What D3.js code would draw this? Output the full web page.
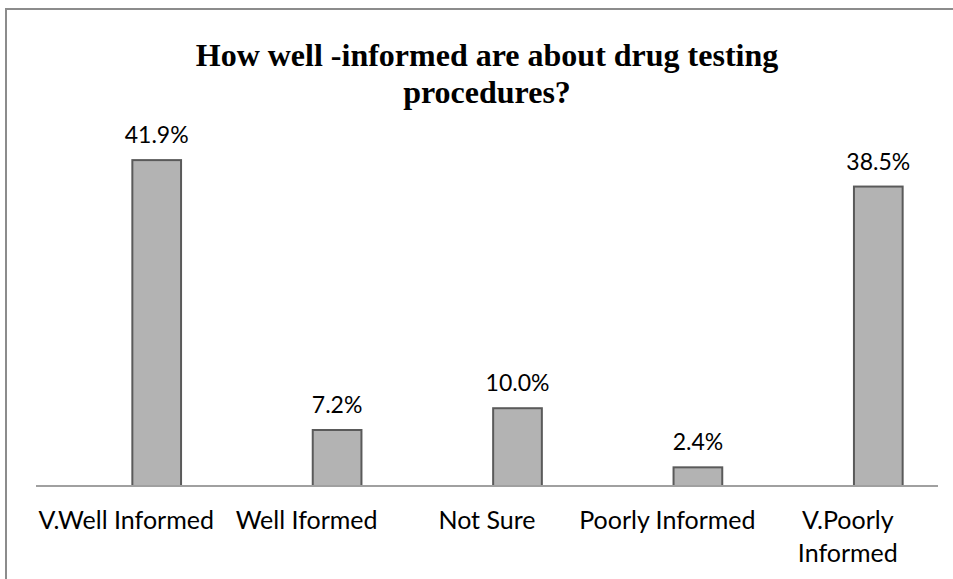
<!DOCTYPE html>
<html>
<head>
<meta charset="utf-8">
<script src="https://cdn.jsdelivr.net/npm/d3@7/dist/d3.min.js"></script>
<style>
  body { margin: 0; background: #fff; }
  svg { display: block; }
  .cat, .val { font-family: Lato, "Open Sans", sans-serif; fill: #000; }
  .title { font-family: "Liberation Serif", "Times New Roman", serif; font-weight: bold; }
</style>
</head>
<body>
<script>
var categories = ["V.Well Informed", "Well Iformed", "Not Sure", "Poorly Informed", "V.Poorly\nInformed"];
var values = [41.9, 7.2, 10.0, 2.4, 38.5];
var titleLines = ["How well -informed are about drug testing", "procedures?"];

var width = 953, height = 579;
var axisLeft = 36, axisRight = 938, baseY = 486;
// bars sit a little to the right of the label slots in the original
var barShift = 30.5;

var svg = d3.select("body").append("svg").attr("width", width).attr("height", height);

// outer frame (right and bottom run off the picture)
svg.append("rect")
  .attr("x", 6).attr("y", 9)
  .attr("width", width + 20).attr("height", height + 20)
  .attr("fill", "#fff")
  .attr("stroke", "#8c8c8c")
  .attr("stroke-width", 2);

var x = d3.scaleBand().domain(categories).range([axisLeft, axisRight]);
var y = d3.scaleLinear().domain([0, 45]).range([baseY, 136]);
var barW = x.step() * 0.27;

var data = categories.map(function(c, i) { return {cat: c, v: values[i]}; });

function barX(d) { return x(d.cat) + x.bandwidth() / 2 + barShift - barW / 2; }

svg.selectAll(".bar")
  .data(data)
  .enter()
  .append("rect")
  .attr("class", "bar")
  .attr("x", barX)
  .attr("y", function(d) { return y(d.v); })
  .attr("width", barW)
  .attr("height", function(d) { return y(0) - y(d.v); })
  .attr("fill", "#b3b3b3")
  .attr("stroke", "#5a5a5a")
  .attr("stroke-width", 2);

// category axis line
svg.append("line")
  .attr("x1", axisLeft).attr("x2", axisRight)
  .attr("y1", y(0)).attr("y2", y(0))
  .attr("stroke", "#a0a0a0")
  .attr("stroke-width", 2);

svg.selectAll(".val")
  .data(data)
  .enter()
  .append("text")
  .attr("class", "val")
  .attr("x", function(d) { return barX(d) + barW / 2; })
  .attr("y", function(d) { return y(d.v) - 17; })
  .attr("text-anchor", "middle")
  .style("font-size", "23px")
  .text(function(d) { return d3.format(".1f")(d.v) + "%"; });

var cat = svg.selectAll(".cat")
  .data(categories)
  .enter()
  .append("text")
  .attr("class", "cat")
  .attr("text-anchor", "middle")
  .attr("y", 529)
  .style("font-size", "25px");

cat.selectAll("tspan")
  .data(function(d) { return d.split("\n").map(function(t) { return {t: t, c: d}; }); })
  .enter()
  .append("tspan")
  .attr("x", function(d) { return x(d.c) + x.bandwidth() / 2; })
  .attr("dy", function(d, i) { return i ? 32.5 : 0; })
  .text(function(d) { return d.t; });

svg.append("text")
  .attr("class", "title")
  .attr("text-anchor", "middle")
  .style("font-size", "32px")
  .selectAll("tspan")
  .data(titleLines)
  .enter()
  .append("tspan")
  .attr("x", 487)
  .attr("y", function(d, i) { return 66 + i * 37; })
  .text(function(d) { return d; });
</script>
</body>
</html>
